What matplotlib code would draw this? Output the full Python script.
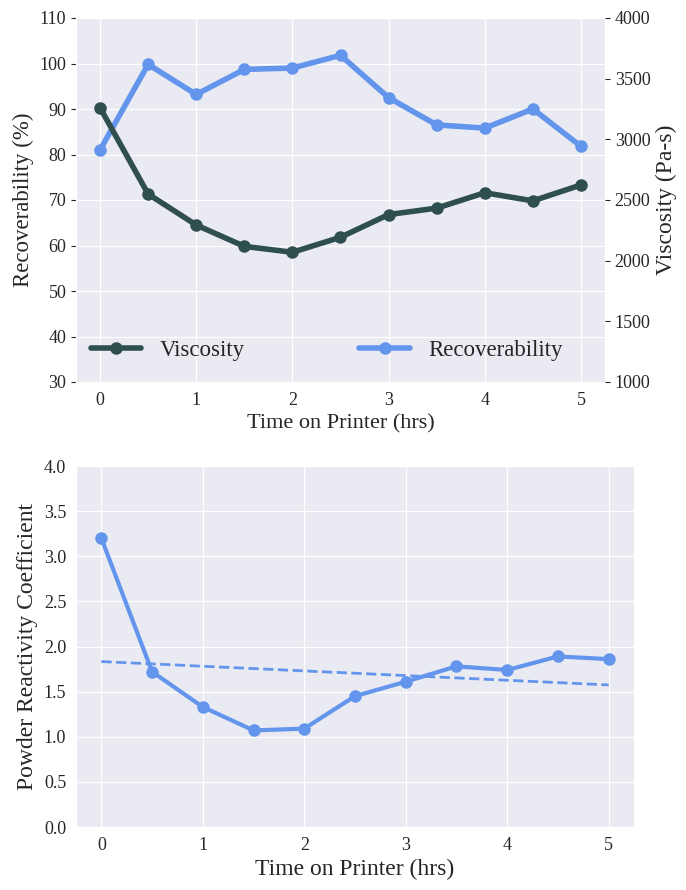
import numpy as np
import matplotlib.pyplot as plt
import seaborn as sns

sns.set_style('darkgrid')
plt.rcParams['font.family'] = ['Liberation Serif', 'DejaVu Serif']

tiempo = [0, 0.5, 1, 1.5, 2, 2.5, 3, 3.5, 4, 4.5, 5]
recuperabilidad = [81.0, 99.8, 93.2, 98.7, 99.0, 101.8, 92.5, 86.5, 85.8, 90.0, 81.8]
viscosidad = [3261, 2549, 2294, 2118, 2069, 2193, 2380, 2433, 2560, 2493, 2624]
reactividad = [3.20, 1.72, 1.33, 1.07, 1.09, 1.45, 1.61, 1.78, 1.74, 1.89, 1.86]

azul = '#6495ED'
oscuro = '#2F4F4F'

fig = plt.figure(figsize=(6.86, 8.9), dpi=100)

# panel superior
ax1 = fig.add_axes([76/686, 1-382/890, (605-76)/686, (382-18)/890])
ax2 = ax1.twinx()
l2, = ax1.plot(tiempo, recuperabilidad, '-o', color=azul, lw=4, ms=8)
l1, = ax2.plot(tiempo, viscosidad, '-o', color=oscuro, lw=4, ms=8)
ax1.set_ylim(30, 110)
ax2.set_ylim(1000, 4000)
ax1.set_xlim(-0.25, 5.25)
ax2.grid(False)
ax1.set_ylabel('Recoverability (%)', fontsize=16.5)
ax2.set_ylabel('Viscosity (Pa-s)', fontsize=17)
ax1.set_xlabel('Time on Printer (hrs)', fontsize=16)
ax1.tick_params(labelsize=13)
ax2.tick_params(labelsize=13)
for s in ax2.spines.values():
    s.set_visible(False)
ax2.legend([l1, l2], ['Viscosity', 'Recoverability'], loc='lower center',
           ncol=2, frameon=False, fontsize=16.5, handlelength=2.2,
           columnspacing=5.0, bbox_to_anchor=(0.474, 0.0))

# panel inferior
ax3 = fig.add_axes([76/686, 1-827/890, (634-76)/686, (827-466)/890])
ax3.plot(tiempo, reactividad, '-o', color=azul, lw=3, ms=8)
p = np.polyfit(tiempo, reactividad, 1)
ax3.plot(tiempo, np.polyval(p, tiempo), '--', color=azul, lw=2)
ax3.set_ylim(0, 4)
ax3.set_xlim(-0.25, 5.25)
ax3.set_ylabel('Powder Reactivity Coefficient', fontsize=17)
ax3.set_xlabel('Time on Printer (hrs)', fontsize=17)
ax3.tick_params(labelsize=13)

plt.savefig('out.png')
